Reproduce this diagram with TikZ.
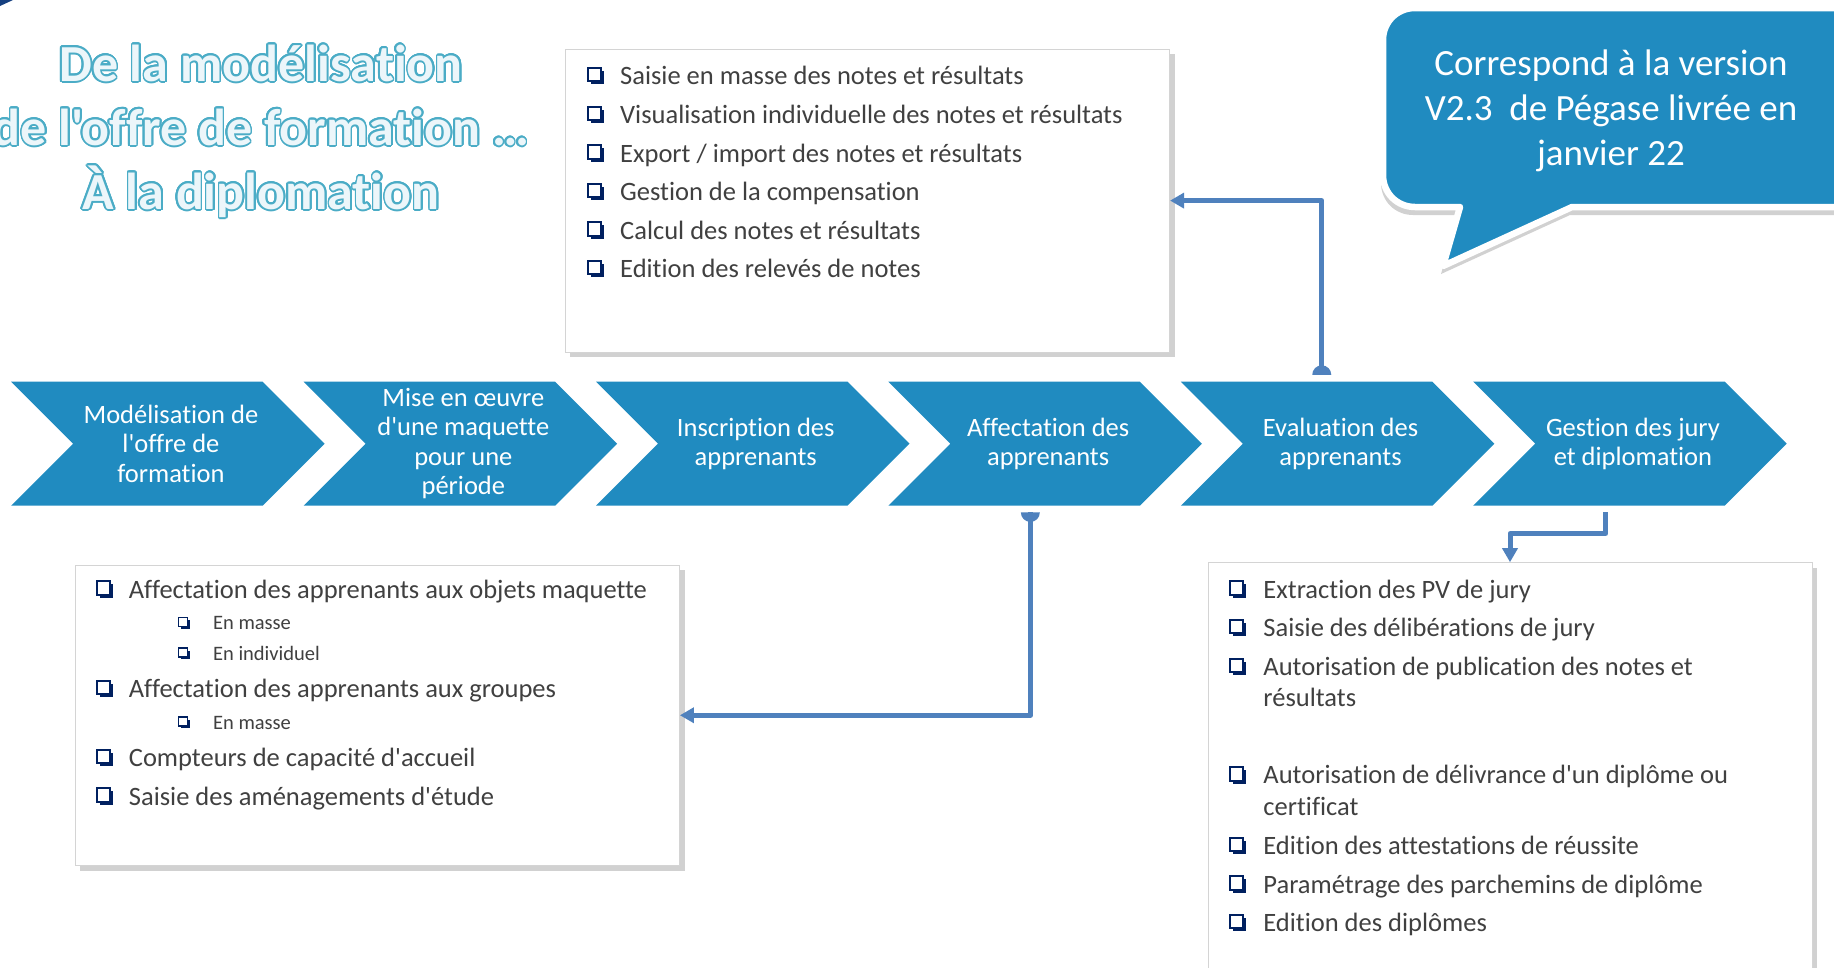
\documentclass[tikz,border=0pt]{standalone}
\usepackage{fontspec}
\setmainfont{Carlito}
\newfontfamily\carlfont{Carlito}[Ligatures={NoCommon}]
\usepackage{contour}
\usetikzlibrary{arrows.meta,shadows,calc}
\definecolor{chevblue}{RGB}{32,139,192}
\definecolor{connblue}{RGB}{79,129,189}
\definecolor{navy}{RGB}{0,32,96}
\definecolor{txtgrey}{RGB}{64,64,64}
\definecolor{titleblue}{RGB}{75,172,198}
\definecolor{titlefill}{RGB}{236,246,250}
\definecolor{boxline}{RGB}{212,212,212}
\definecolor{darknavy}{RGB}{22,64,128}
\contourlength{1.7pt}
\contournumber{24}
\begin{document}
\begin{tikzpicture}[x=1pt,y=-1pt,
  chevfill/.style={fill=chevblue},
  chevtext/.style={text=white, align=center, inner sep=0pt,
    font=\carlfont\fontsize{26.5}{29.5}\selectfont,
    minimum width=250pt, minimum height=124pt},
  listbox/.style={draw=boxline, fill=white, line width=0.8pt, inner sep=0pt,
    drop shadow={shadow xshift=5pt, shadow yshift=-5pt, opacity=0.3, fill=black!60}},
  item/.style={anchor=west, inner sep=0pt, text=txtgrey, yshift=-3.5pt,
    font=\carlfont\fontsize{26.5}{31.6}\selectfont, text height=18pt, text depth=5pt},
  itemwrap/.style={anchor=west, inner sep=0pt, text=txtgrey, align=left, yshift=-0.5pt,
    font=\carlfont\fontsize{26.5}{31.6}\selectfont},
  subitem/.style={anchor=west, inner sep=0pt, text=txtgrey, yshift=-2.5pt,
    font=\carlfont\fontsize{20.5}{24}\selectfont, text height=14pt, text depth=4pt},
  conn/.style={draw=connblue, line width=5pt, line join=round,
    -{Triangle[length=14pt,width=15pt]}},
  bubble/.style={fill=chevblue, draw=white, line width=6.5pt, line join=round,
    drop shadow={shadow xshift=-2pt, shadow yshift=-8pt, opacity=0.3, fill=black!60}},
  bubbletext/.style={text=white, align=center, inner sep=0pt,
    font=\carlfont\fontsize{37}{45}\selectfont},
  titletext/.style={text=titlefill, align=center, inner sep=0pt,
    font=\carlfont\bfseries\fontsize{52}{64}\selectfont},
  cbox/.pic={
    \fill[navy] (-4.5,-4.5) rectangle (9,9);
    \filldraw[draw=navy, fill=white, line width=2pt] (-7.5,-7.5) rectangle (6,6);
  },
  cboxs/.pic={
    \fill[navy] (-2.5,-2.5) rectangle (6,6);
    \filldraw[draw=navy, fill=white, line width=1.4pt] (-5,-5) rectangle (4,4);
  }
]
\useasboundingbox (0,0) rectangle (1834,967);

% corner fragment
\fill[darknavy] (0,0) -- (13,0) -- (0,6) -- cycle;

% title
\node[titletext] (title) at (261,132) {\contour{titleblue}{De la modélisation}\\
  \contour{titleblue}{de l'offre de formation …}\\
  \contour{titleblue}{À la diplomation}};

% chevrons
\foreach \b in {11.2,303.6,596.0,888.4,1180.8,1473.2}{
  \fill[chevfill] (\b,381.7) -- (\b+251.5,381.7) -- (\b+313.5,443.7) -- (\b+251.5,505.7)
    -- (\b,505.7) -- (\b+62,443.7) -- cycle;
}
\node[chevtext] (chev1) at (170.95,443.7) {Modélisation de\\l'offre de\\formation};
\node[chevtext] (chev2) at (463.35,443.7) {Mise en œuvre\\d'une maquette\\pour une\\période};
\node[chevtext] (chev3) at (755.75,443.7) {Inscription des\\apprenants};
\node[chevtext] (chev4) at (1048.15,443.7) {Affectation des\\apprenants};
\node[chevtext] (chev5) at (1340.55,443.7) {Evaluation des\\apprenants};
\node[chevtext] (chev6) at (1632.95,443.7) {Gestion des jury\\et diplomation};

% top box
\node[listbox, minimum width=604.7pt, minimum height=302.9pt] (topbox) at (867.3,200.6) {};
\pic at (595.3,75.4) {cbox};
\node[item] (ta) at (620,74.9) {Saisie en masse des notes et résultats};
\pic at (595.3,114) {cbox};
\node[item] (tb) at (620,113.5) {Visualisation individuelle des notes et résultats};
\pic at (595.3,152.5) {cbox};
\node[item] (tc) at (620,152) {Export / import des notes et résultats};
\pic at (595.3,191.1) {cbox};
\node[item] (td) at (620,190.6) {Gestion de la compensation};
\pic at (595.3,229.7) {cbox};
\node[item] (te) at (620,229.2) {Calcul des notes et résultats};
\pic at (595.3,268.3) {cbox};
\node[item] (tf) at (620,267.8) {Edition des relevés de notes};

% left box
\node[listbox, minimum width=604.6pt, minimum height=300.5pt] (leftbox) at (377.2,715.25) {};
\pic at (104,588.8) {cbox};
\node[item] (la) at (128.7,588.3) {Affectation des apprenants aux objets maquette};
\pic at (183.6,622.7) {cboxs};
\node[subitem] (lb) at (212.9,622.2) {En masse};
\pic at (183.6,653.1) {cboxs};
\node[subitem] (lc) at (212.9,652.6) {En individuel};
\pic at (104,688.2) {cbox};
\node[item] (ld) at (128.7,687.7) {Affectation des apprenants aux groupes};
\pic at (183.6,722.1) {cboxs};
\node[subitem] (le) at (212.9,721.6) {En masse};
\pic at (104,757.2) {cbox};
\node[item] (lf) at (128.7,756.7) {Compteurs de capacité d'accueil};
\pic at (104,795.8) {cbox};
\node[item] (lg) at (128.7,795.3) {Saisie des aménagements d'étude};

% right box
\node[listbox, minimum width=604pt, minimum height=437.4pt] (rightbox) at (1510,781.3) {};
\pic at (1237.4,588.8) {cbox};
\node[item] (ra) at (1263.2,588.3) {Extraction des PV de jury};
\pic at (1237.4,627.4) {cbox};
\node[item] (rb) at (1263.2,626.9) {Saisie des délibérations de jury};
\pic at (1237.4,666) {cbox};
\node[itemwrap] (rc) at (1263.2,681.3) {Autorisation de publication des notes et\\résultats};
\pic at (1237.4,774.8) {cbox};
\node[itemwrap] (rd) at (1263.2,790.1) {Autorisation de délivrance d'un diplôme ou\\certificat};
\pic at (1237.4,845) {cbox};
\node[item] (re) at (1263.2,844.5) {Edition des attestations de réussite};
\pic at (1237.4,883.6) {cbox};
\node[item] (rf) at (1263.2,883.1) {Paramétrage des parchemins de diplôme};
\pic at (1237.4,922.1) {cbox};
\node[item] (rg) at (1263.2,921.6) {Edition des diplômes};

% connectors
\coordinate (evs) at ([xshift=-18.8pt,yshift=6.7pt]chev5.north);
\draw[conn] (evs) |- (topbox.east);
\fill[connblue] ([xshift=-9.5pt]evs) arc[start angle=180,end angle=0,radius=9.5pt] -- cycle;

\coordinate (afs) at ([xshift=-17.8pt,yshift=-6.5pt]chev4.south);
\draw[conn] (afs) |- (leftbox.east);
\fill[connblue] ([xshift=-9.5pt]afs) arc[start angle=180,end angle=360,radius=9.5pt] -- cycle;

\coordinate (gjs) at ([xshift=-27pt,yshift=-6.5pt]chev6.south);
\draw[conn] (gjs) -- ++(0,21) -| (rightbox.north);

% speech bubble
\path[bubble] (1460,207) -- (1415,207) .. controls (1397,207) and (1383,193) .. (1383,175)
  -- (1383,40) .. controls (1383,22) and (1397,8) .. (1415,8) -- (1880,8) -- (1880,207)
  -- (1572,207) -- (1443,266) -- cycle;
\node[bubbletext] (bubtxt) at (1611,110.5) {Correspond à la version\\V2.3\ \ de Pégase livrée en\\janvier 22};
\end{tikzpicture}
\end{document}
